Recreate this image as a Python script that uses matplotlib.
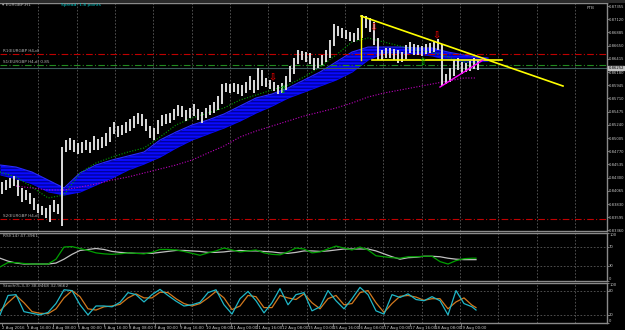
import matplotlib
matplotlib.use('Agg')
import matplotlib.pyplot as plt
import numpy as np
import warnings
warnings.filterwarnings('ignore')

plt.rcParams['font.family'] = ['Liberation Sans Narrow', 'DejaVu Sans']

# ---------------- data ----------------
highs = [
    .84222, .84258, .84294, .84329, .84258, .84116, .84080, .84027, .83938, .83831,
    .83795, .83760, .83813, .83902, .83831, .84845, .84970, .85006, .84970, .84917,
    .84934, .84970, .84934, .85041, .84988, .85023, .85095, .85201, .85290, .85219,
    .85237, .85290, .85344, .85397, .85451, .85433, .85344, .85219, .85184, .85326,
    .85415, .85433, .85451, .85522, .85593, .85575, .85504, .85540, .85611, .85522,
    .85468, .85540, .85593, .85646, .85753, .85967, .85985, .85967, .85985, .85967,
    .85949, .86002, .86109, .86038, .86252, .86216, .86074, .86038, .86002, .85949,
    .85985, .86109, .86287, .86430, .86572, .86554, .86536, .86519, .86430, .86430,
    .86483, .86572, .86750, .87035, .86999, .86964, .86928, .86892, .86875, .86964,
    .87195, .87177, .87142, .87070, .86786, .86572, .86608, .86608, .86590, .86572,
    .86536, .86661, .86714, .86679, .86661, .86643, .86679, .86697, .86714, .86768,
    .86679, .86145, .86252, .86394, .86430, .86358, .86341, .86376, .86430, .86376,
]
lows = [
    .84009, .84080, .84116, .84151, .83973, .83866, .83902, .83831, .83724, .83671,
    .83635, .83582, .83510, .83688, .83653, .83439, .84756, .84792, .84756, .84721,
    .84739, .84792, .84739, .84792, .84792, .84828, .84863, .84934, .85077, .85023,
    .85059, .85095, .85130, .85184, .85255, .85219, .85130, .85006, .84970, .85077,
    .85219, .85255, .85273, .85326, .85397, .85379, .85308, .85362, .85397, .85326,
    .85273, .85362, .85415, .85451, .85504, .85611, .85824, .85807, .85824, .85789,
    .85753, .85807, .85860, .85807, .85860, .85931, .85913, .85878, .85842, .85789,
    .85807, .85860, .86002, .86145, .86323, .86394, .86358, .86323, .86216, .86252,
    .86305, .86358, .86430, .86643, .86821, .86786, .86768, .86732, .86714, .86750,
    .86786, .86964, .86892, .86661, .86394, .86394, .86430, .86430, .86394, .86341,
    .86358, .86412, .86519, .86483, .86483, .86465, .86501, .86519, .86536, .86572,
    .85931, .85967, .86002, .86109, .86216, .86145, .86180, .86198, .86234, .86216,
]

# indicator samples (bar index)
ma_idx = [0, 4, 8, 12, 16, 20, 24, 28, 32, 36, 40, 44, 48, 52, 56, 60, 64, 68, 72, 76,
          80, 84, 88, 92, 96, 100, 104, 108, 112, 116, 119]
cloud_idx = ma_idx + [122]
cloud_top = [.84525, .84489, .84400, .84258, .84116, .84383, .84525, .84614, .84685, .84756,
             .84970, .85112, .85237, .85326, .85433, .85575, .85718, .85789, .85896, .86038,
             .86180, .86358, .86536, .86625, .86625, .86625, .86608, .86608, .86536, .86483,
             .86447, .86430]
cloud_bot = [.84347, .84276, .84187, .84044, .83991, .84044, .84169, .84294, .84436, .84543,
             .84667, .84828, .84970, .85077, .85184, .85308, .85451, .85575, .85718, .85824,
             .85931, .86038, .86180, .86394, .86519, .86519, .86501, .86465, .86394, .86358,
             .86358, .86376]
ma_fast = [.84400, .84311, .84133, .83938, .83991, .84383, .84561, .84667, .84756, .84828,
           .85023, .85237, .85362, .85451, .85540, .85682, .85771, .85860, .85949, .86091,
           .86269, .86483, .86714, .86786, .86714, .86643, .86572, .86536, .86447, .86358,
           .86341]
ma_slow = [.84151, .84116, .84080, .84080, .84133, .84187, .84258, .84311, .84383,
           .84454, .84525, .84614, .84739, .84863, .85023, .85130, .85219, .85308, .85397,
           .85468, .85540, .85629, .85735, .85807, .85860, .85913, .85967, .86020, .86074,
           .86074]

osc_idx = list(range(0, 120, 2)) + [119]
rsi = [29, 38, 38, 36, 35, 35, 35, 45, 70, 71,
       67, 63, 58, 56, 55, 56, 58, 57, 56, 59,
       65, 65, 64, 61, 57, 53, 58, 62, 68, 64,
       60, 62, 64, 58, 55, 54, 60, 68, 66, 58,
       60, 66, 72, 68, 64, 70, 64, 52, 50, 48,
       47, 50, 50, 51, 51, 40, 35, 42, 46, 47,
       47]
rsi_sig = [47, 41, 37, 35, 35, 35, 35, 37, 45, 55,
           63, 65, 67, 65, 61, 59, 58, 57, 57, 57,
           59, 61, 63, 63, 62, 61, 59, 59, 60, 62,
           63, 62, 62, 61, 60, 58, 57, 59, 62, 62,
           61, 62, 64, 66, 66, 66, 66, 62, 56, 50,
           45, 48, 49, 51, 51, 50, 47, 45, 44, 44,
           44]
stoch_k = [20, 68, 70, 28, 24, 20, 26, 48, 82, 80,
           45, 20, 42, 42, 40, 51, 75, 70, 52, 70,
           83, 68, 54, 42, 45, 51, 75, 82, 45, 22,
           60, 78, 55, 25, 50, 85, 45, 70, 75, 30,
           40, 80, 55, 35, 60, 88, 70, 30, 22, 70,
           63, 72, 58, 55, 65, 55, 20, 80, 48, 40,
           32]
stoch_d = [30, 50, 68, 50, 28, 24, 23, 35, 62, 80,
           65, 35, 32, 40, 42, 46, 62, 72, 62, 62,
           76, 75, 60, 48, 42, 48, 62, 78, 62, 33,
           42, 68, 65, 38, 38, 68, 62, 58, 72, 50,
           35, 60, 68, 45, 48, 75, 80, 50, 26, 48,
           66, 68, 64, 56, 60, 60, 35, 52, 62, 44,
           38]

# horizontal levels
level_r_top = 0.86501
level_g = 0.86305
bid = 0.86252
level_r_bot = 0.83564

# drawn objects (bar index, price)
yl_trend_x = [90.25, 140.75]; yl_trend_y = [0.87177, 0.85931]
yl_level_x = [93.0, 125.5];   yl_level_y = [0.86394, 0.86394]
yl_vert_x = [90.25, 90.25];   yl_vert_y = [0.87177, 0.86394]
mg_trend_x = [110.0, 120.75]; mg_trend_y = [0.85913, 0.86394]
dn_arrow_x = [93.5, 109.25, 68.25]; dn_arrow_y = [0.86999, 0.86857, 0.86109]
up_arrow_x = [70.75, 105.75];       up_arrow_y = [0.85860, 0.86358]

price_ticks = [0.87355 - 0.00235 * k for k in range(18)]
time_labels = ['2 Aug 2016', '3 Aug 16:00', '4 Aug 08:00', '5 Aug 00:00', '5 Aug 16:00',
               '8 Aug 08:00', '9 Aug 00:00', '9 Aug 16:00', '10 Aug 08:00', '11 Aug 00:00',
               '11 Aug 16:00', '12 Aug 08:00', '15 Aug 00:00', '15 Aug 16:00', '16 Aug 08:00',
               '17 Aug 00:00', '17 Aug 16:00', '18 Aug 08:00', '19 Aug 00:00']

# ---------------- figure ----------------
W, H = 625, 330
fig = plt.figure(figsize=(W / 100, H / 100), dpi=100, facecolor='black')
XMAX = 607 / 4.0
GRID = '#5a5a5a'
TXT = '#c8c8c8'
FS = 3.2

def px_axes(top, bottom):
    return fig.add_axes([0, (H - bottom) / H, 607 / W, (bottom - top) / H])

ax = px_axes(2.5, 231)
ar = px_axes(232.5, 281)
ast = px_axes(282.5, 323)

for a in (ax, ar, ast):
    a.set_facecolor('black')
    a.set_xlim(0, XMAX)
    for s in a.spines.values():
        s.set_color('#8a8a8a')
        s.set_linewidth(1.0)
    a.spines['left'].set_visible(False)
    a.yaxis.tick_right()
    a.tick_params(axis='y', colors='#8a8a8a', labelcolor=TXT, labelsize=2.7,
                  length=1.2, width=0.6, pad=0.3)
    a.tick_params(axis='x', colors='#8a8a8a', labelcolor=TXT, labelsize=FS,
                  length=2, width=0.6, pad=0.5)
    for gx in np.arange(1, 16) * (38.33 / 4):
        a.axvline(gx, color=GRID, lw=0.6, ls=(0, (2, 2)), zorder=0)

# main panel
ax.set_ylim(0.83350, 0.87418)
ax.set_xticks([])
ax.set_yticks(price_ticks)
ax.set_yticklabels(['%.5f' % v for v in price_ticks])

# cloud
ax.fill_between(cloud_idx, cloud_top, cloud_bot, color='#0a0aff', lw=0, zorder=1)
ax.fill_between(cloud_idx, cloud_top, cloud_bot, facecolor='none', edgecolor='#0000a0',
                hatch='-----', lw=0, zorder=1.1)
ax.plot(cloud_idx, cloud_top, color='#2a2aff', lw=0.8, zorder=1.2)

# moving averages
ax.plot(ma_idx, ma_fast, color='#00a000', lw=0.8, ls=(0, (1, 1.5)), zorder=2)
ax.plot(ma_idx[1:], ma_slow, color='#c000c0', lw=0.8, ls=(0, (1, 1.5)), zorder=2)

# horizontal levels
ax.axhline(level_r_top, color='#c00000', lw=0.8, ls=(0, (6, 2, 1, 2)), zorder=2)
ax.axhline(level_g, color='#208a20', lw=0.8, ls=(0, (6, 2, 1, 2)), zorder=2)
ax.axhline(bid, color='#3d5c5c', lw=0.8, zorder=2)
ax.axhline(level_r_bot, color='#c00000', lw=0.8, ls=(0, (6, 2, 1, 2)), zorder=2)

# price bars
bx = np.arange(len(highs)) + 0.5
ax.vlines(bx, lows, highs, color='#dcdcdc', lw=1.4, zorder=3)

# drawn objects
ax.plot(yl_trend_x, yl_trend_y, color='#ffff00', lw=1.2, zorder=4)
ax.plot(yl_level_x, yl_level_y, color='#ffff00', lw=1.2, zorder=4)
ax.plot(yl_vert_x, yl_vert_y, color='#ffff00', lw=1.0, zorder=4)
ax.plot(mg_trend_x, mg_trend_y, color='#ff00ff', lw=1.0, zorder=4)
for x, y in zip(dn_arrow_x, dn_arrow_y):
    ax.text(x, y, '\u21e9', color='#d00000', fontsize=7, ha='center', va='center', zorder=5,
            family='DejaVu Sans', fontweight='bold')
for x, y in zip(up_arrow_x, up_arrow_y):
    ax.text(x, y, '\u21e7', color='#00b000', fontsize=7, ha='center', va='center', zorder=5,
            family='DejaVu Sans', fontweight='bold')

# bid box
ax.text(XMAX + 0.4, bid, '%.5f' % bid, color='black', fontsize=2.7, ha='left', va='center',
        bbox=dict(boxstyle='square,pad=0.1', fc='#c0c0c0', ec='#c0c0c0'), zorder=10,
        clip_on=False)

# texts
ax.text(0.004, 0.996, '\u25be EURGBP,H1', color='#b0b0b0', fontsize=FS, ha='left', va='top',
        transform=ax.transAxes)
ax.text(0.1, 0.996, 'Spread: 1.8 points', color='#00c8c8', fontsize=FS, ha='left',
        va='top', transform=ax.transAxes)
ax.text(0.973, 0.985, 'FTB', color='#b0b0b0', fontsize=FS, ha='center', va='top',
        transform=ax.transAxes)
ax.text(0.8, level_r_top + 0.0002, 'R1(EURGBP H4,d)', color='#b0b0b0', fontsize=FS - 0.2,
        ha='left', va='bottom')
ax.text(0.8, level_g + 0.0002, 'S1(EURGBP H4,d) 0.85', color='#b0b0b0', fontsize=FS - 0.2,
        ha='left', va='bottom')
ax.text(0.8, level_r_bot + 0.0002, 'S2(EURGBP H4,d)', color='#b0b0b0', fontsize=FS - 0.2,
        ha='left', va='bottom')

# RSI panel
ar.set_ylim(0, 100)
ar.set_xticks([])
ar.axhline(70, color=GRID, lw=0.6, ls=(0, (2, 2)))
ar.axhline(30, color=GRID, lw=0.6, ls=(0, (2, 2)))
ar.plot(osc_idx, rsi_sig, color='#c0c0c0', lw=0.9)
ar.plot(osc_idx, rsi, color='#00a000', lw=0.9)
ar.set_yticks([0, 30, 70, 100])
ar.set_yticklabels(['0', '30', '70', '100'])
for lab, va in zip(ar.get_yticklabels(), ['bottom', 'center', 'center', 'top']):
    lab.set_va(va)
ar.text(0.8, 96, 'RSI(14) 47.3961', color='#b0b0b0', fontsize=FS, ha='left', va='top')

# Stochastic panel
ast.set_ylim(0, 100)
ast.axhline(80, color=GRID, lw=0.6, ls=(0, (2, 2)))
ast.axhline(20, color=GRID, lw=0.6, ls=(0, (2, 2)))
ast.plot(osc_idx, stoch_d, color='#d2781e', lw=0.9)
ast.plot(osc_idx, stoch_k, color='#20b8c8', lw=0.9)
ast.set_yticks([0, 20, 80, 100])
ast.set_yticklabels(['0', '20', '80', '100'])
for lab, va in zip(ast.get_yticklabels(), ['bottom', 'center', 'center', 'top']):
    lab.set_va(va)
ast.text(0.8, 96, 'Stoch(5,3,3) 38.9468 32.9662', color='#b0b0b0', fontsize=FS,
         ha='left', va='top')
tpos = [(1.5 + 25.5 * k) / 4 for k in range(len(time_labels))]
ast.set_xticks(tpos)
ast.set_xticklabels(time_labels, ha='left', fontsize=2.8)

# top strip
fig.patches.append(plt.Rectangle((0, (H - 2.5) / H), 1, 2.5 / H, transform=fig.transFigure,
                                 fc='#2a2a2a', ec='none'))

fig.savefig('out.png', dpi=100, facecolor='black')
